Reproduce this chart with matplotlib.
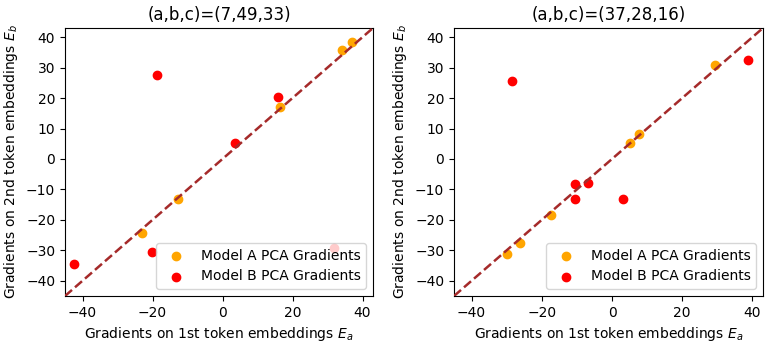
import numpy as np
import matplotlib
matplotlib.use("Agg")
import matplotlib.pyplot as plt

# left panel, (a,b,c)=(7,49,33)
left_title = "(a,b,c)=(7,49,33)"
left_a_x = [36.9, 34.2, 16.3, -12.6, -22.9]
left_a_y = [38.3, 35.8, 17.2, -13.1, -24.2]
left_b_x = [-18.7, 15.8, 3.7, -20.2, -42.3, 31.8]
left_b_y = [27.7, 20.2, 5.3, -30.6, -34.6, -29.2]

# right panel, (a,b,c)=(37,28,16)
right_title = "(a,b,c)=(37,28,16)"
right_a_x = [29.4, 7.7, 5.1, -17.3, -26.2, -29.8]
right_a_y = [31.0, 8.2, 5.1, -18.3, -27.5, -31.2]
right_b_x = [-28.5, 38.8, -10.6, -6.8, -10.5, 3.0]
right_b_y = [25.5, 32.6, -8.2, -7.8, -13.0, -13.1]

lims = (-45, 43)

fig = plt.figure(figsize=(7.71, 3.47), dpi=100)
ax1 = fig.add_axes([65/771, 51/347, 308/771, 268/347])
ax2 = fig.add_axes([454/771, 51/347, 309/771, 268/347])

def draw_panel(ax, title, ax_, ay_, bx_, by_):
    ax.scatter(ax_, ay_, c='orange', label='Model A PCA Gradients', zorder=2)
    ax.scatter(bx_, by_, c='red', label='Model B PCA Gradients', zorder=2)
    ax.plot(lims, lims, '--', color='brown', lw=1.8, zorder=3)
    ax.set_xlim(lims)
    ax.set_ylim(lims)
    ax.set_xticks([-40, -20, 0, 20, 40])
    ax.set_yticks(np.arange(-40, 41, 10))
    ax.set_title(title)
    ax.set_xlabel('Gradients on 1st token embeddings $E_a$')
    ax.set_ylabel('Gradients on 2nd token embeddings $E_b$')
    ax.legend(loc='lower right')

draw_panel(ax1, left_title, left_a_x, left_a_y, left_b_x, left_b_y)
draw_panel(ax2, right_title, right_a_x, right_a_y, right_b_x, right_b_y)

fig.savefig('out.png', dpi=100)
